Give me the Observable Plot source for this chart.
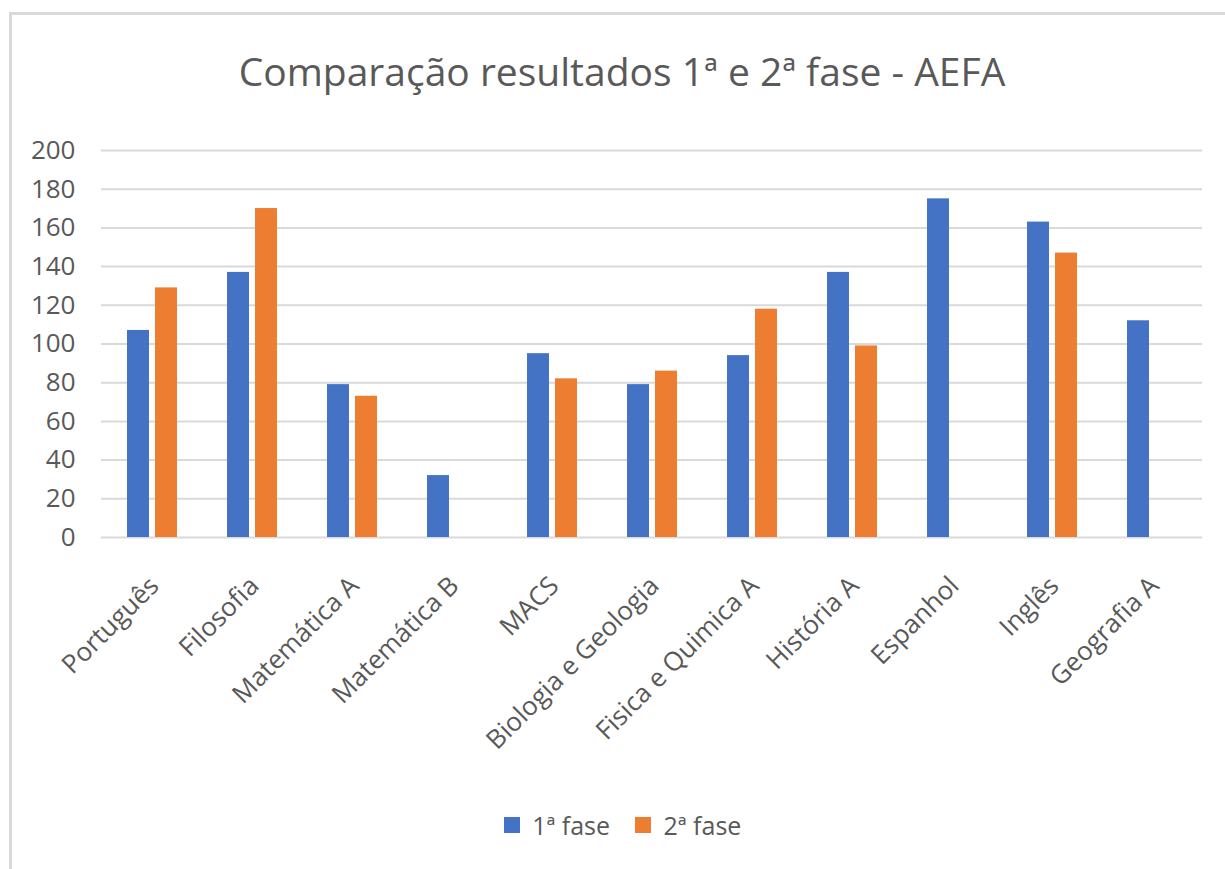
<!DOCTYPE html>
<html>
<head>
<meta charset="utf-8">
<script src="https://cdn.jsdelivr.net/npm/d3@7"></script>
<script src="https://cdn.jsdelivr.net/npm/@observablehq/plot@0.6"></script>
<style>
  html, body { margin: 0; padding: 0; background: #fff; }
  body { width: 1225px; height: 869px; position: relative; overflow: hidden; font-family: "Open Sans", "Lato", sans-serif; color: #595959; }
  #frame { position: absolute; left: 9px; top: 12px; right: -10px; bottom: -10px; border-top: 3px solid #d9d9d9; border-left: 3px solid #d9d9d9; }
  #title { position: absolute; left: 0; width: 1244px; top: 51px; text-align: center; font-size: 39px; line-height: 40px; font-weight: 400; color: #595959; white-space: nowrap; }
  #chart { position: absolute; left: 0; top: 120px; }
  #legend { position: absolute; left: 0; width: 1270px; top: 808px; display: flex; justify-content: center; }
</style>
</head>
<body>
<div id="frame"></div>
<div id="title">Comparação resultados 1ª e 2ª fase - AEFA</div>
<div id="chart"></div>
<div id="legend"></div>
<script>
const subjects = ["Português", "Filosofia", "Matemática A", "Matemática B", "MACS", "Biologia e Geologia", "Fisica e Quimica A", "História A", "Espanhol", "Inglês", "Geografia A"];
const fase1 = [107, 137, 79, 32, 95, 79, 94, 137, 175, 163, 112];
const fase2 = [129, 170, 73, null, 82, 86, 118, 99, null, 147, null];
const seriesNames = ["1ª fase", "2ª fase"];
const seriesColors = ["#4472C4", "#ED7D31"];
const yTicks = [0, 20, 40, 60, 80, 100, 120, 140, 160, 180, 200];

const rows1 = subjects.map((s, i) => ({subject: s, serie: seriesNames[0], value: fase1[i]})).filter(d => d.value != null);
const rows2 = subjects.map((s, i) => ({subject: s, serie: seriesNames[1], value: fase2[i]})).filter(d => d.value != null);

const chart = Plot.plot({
  width: 1225,
  height: 670,
  marginTop: 30,
  marginBottom: 253,
  marginLeft: 101,
  marginRight: 23,
  style: {fontFamily: "'Open Sans', Lato, sans-serif", fontSize: "26px", color: "#595959", background: "transparent"},
  x: {domain: subjects, paddingInner: 0.5, paddingOuter: 0.25, label: null},
  y: {domain: [0, 200], ticks: yTicks, label: null},
  color: {domain: seriesNames, range: seriesColors},
  marks: [
    Plot.gridY(yTicks, {stroke: "#d9d9d9", strokeOpacity: 1, strokeWidth: 2}),
    Plot.axisY(yTicks, {tickSize: 0, tickPadding: 26, label: null, fontSize: 26}),
    Plot.axisX({tickRotate: -45, tickSize: 0, tickPadding: 44, label: null, fontSize: 26, dx: 2}),
    Plot.barY(rows1, {x: "subject", y: "value", fill: "serie", insetRight: 28}),
    Plot.barY(rows2, {x: "subject", y: "value", fill: "serie", insetLeft: 28})
  ]
});
document.getElementById("chart").appendChild(chart);

const legend = Plot.legend({
  color: {domain: seriesNames, range: seriesColors},
  swatchSize: 16,
  style: {fontFamily: "'Open Sans', Lato, sans-serif", fontSize: "25px", color: "#595959"}
});
document.getElementById("legend").appendChild(legend);
</script>
</body>
</html>
